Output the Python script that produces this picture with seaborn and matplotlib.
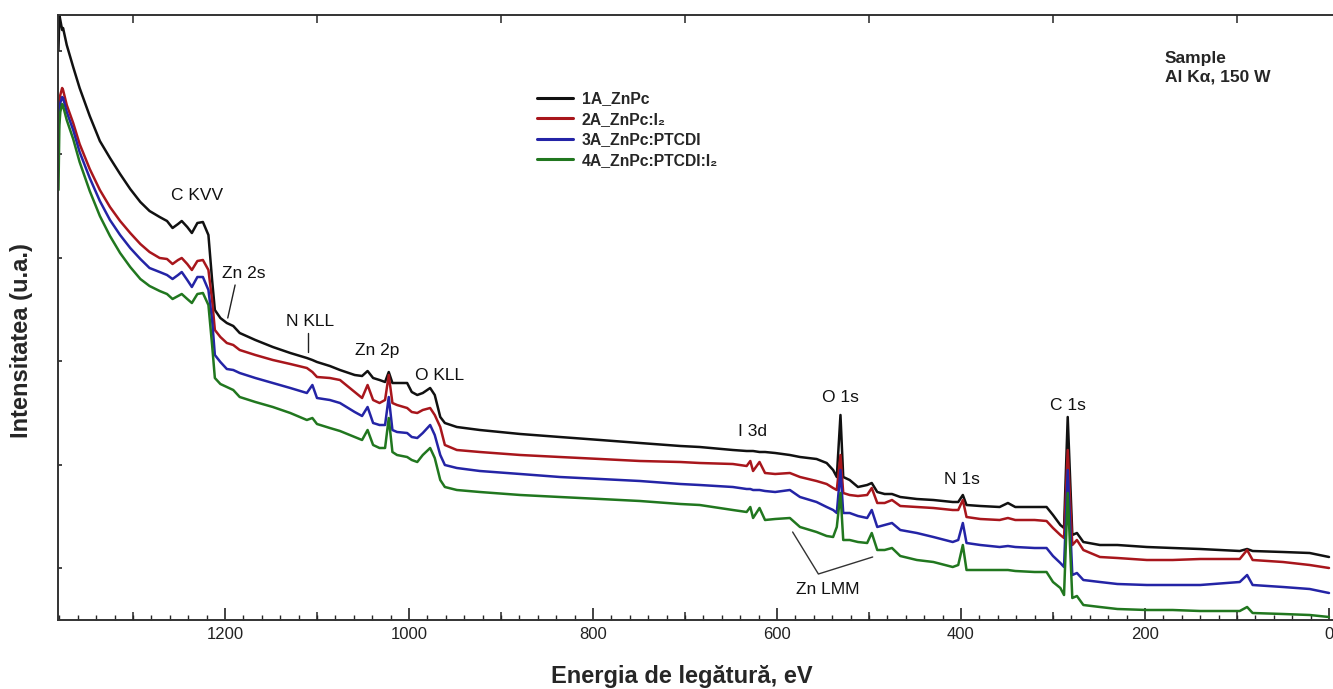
import numpy as np
import pandas as pd
import matplotlib
matplotlib.use("Agg")
import matplotlib.pyplot as plt
from matplotlib.ticker import MultipleLocator, FixedLocator, NullFormatter
import seaborn as sns

# Binding energy grid (eV) shared by all survey spectra
energy = [1381, 1380, 1379, 1377, 1376, 1372, 1365, 1358, 1347, 1336,
          1325, 1314, 1303, 1292, 1282, 1271, 1263, 1257, 1251, 1247,
          1241, 1236, 1230, 1224, 1218, 1214, 1211, 1205, 1198, 1191,
          1184, 1167, 1148, 1129, 1111, 1105, 1100, 1086, 1075, 1059,
          1051, 1045, 1039, 1032, 1026, 1022, 1018, 1013, 1002, 997,
          991, 985, 977, 972, 966, 961, 948, 923, 879, 836,
          792, 749, 705, 684, 648, 633, 629, 626, 619, 613,
          602, 586, 575, 557, 546, 539, 535, 531, 528, 521,
          512, 502, 497, 491, 483, 475, 466, 448, 430, 409,
          403, 398, 394, 379, 358, 349, 341, 320, 307, 300,
          292, 288, 284, 279, 274, 267, 249, 230, 198, 170,
          140, 97, 89, 83, 50, 21, 0]

# Intensities (a.u., stacked for display)
int_1a = [570, 605, 600, 590, 592, 575, 553, 532, 504, 479,
          462, 446, 431, 418, 409, 403, 399, 392, 396, 399,
          393, 387, 397, 398, 385, 340, 310, 302, 297, 294,
          287, 280, 273, 267, 262, 260, 258, 254, 250, 245,
          244, 249, 242, 240, 238, 248, 237, 237, 237, 228,
          225, 227, 232, 225, 203, 197, 193, 190, 186, 183,
          180, 177, 174, 173, 170, 169, 169, 169, 168, 168,
          167, 165, 163, 161, 157, 150, 143, 205, 143, 140,
          133, 135, 137, 128, 126, 126, 123, 121, 120, 118,
          118, 125, 115, 114, 113, 117, 113, 113, 113, 105,
          95, 92, 203, 85, 87, 78, 75, 75, 73, 72,
          71, 69, 71, 69, 68, 67, 63]

int_2a = [498, 520, 525, 532, 530, 515, 497, 476, 451, 430,
          413, 399, 387, 376, 368, 362, 361, 356, 360, 362,
          356, 350, 359, 360, 350, 320, 290, 283, 277, 275,
          270, 265, 260, 256, 252, 248, 243, 242, 240, 228,
          222, 235, 220, 217, 220, 245, 217, 215, 212, 208,
          207, 210, 212, 205, 193, 175, 170, 168, 165, 163,
          161, 159, 158, 157, 156, 154, 159, 149, 158, 147,
          146, 147, 143, 139, 136, 132, 130, 165, 127, 125,
          124, 125, 132, 117, 117, 120, 114, 113, 112, 110,
          110, 120, 103, 101, 100, 102, 100, 100, 99, 92,
          85, 82, 170, 75, 80, 70, 63, 62, 60, 60,
          61, 61, 70, 60, 58, 55, 52]

int_3a = [480, 510, 517, 523, 522, 508, 490, 468, 442, 419,
          400, 385, 372, 361, 352, 348, 345, 341, 345, 348,
          340, 333, 343, 343, 330, 300, 265, 258, 251, 250,
          247, 242, 237, 232, 227, 235, 222, 220, 217, 208,
          204, 213, 197, 195, 195, 223, 190, 188, 187, 183,
          182, 187, 195, 185, 165, 155, 152, 149, 146, 143,
          141, 139, 136, 135, 133, 131, 131, 130, 130, 129,
          128, 130, 123, 118, 113, 110, 107, 150, 107, 107,
          104, 102, 110, 93, 95, 97, 90, 87, 83, 78,
          80, 97, 77, 75, 73, 74, 73, 72, 72, 64,
          57, 53, 150, 45, 47, 40, 38, 36, 35, 35,
          35, 38, 45, 35, 33, 31, 27]

int_4a = [430, 495, 508, 516, 514, 500, 481, 458, 429, 404,
          384, 367, 353, 341, 334, 329, 326, 321, 324, 326,
          321, 317, 326, 327, 315, 275, 242, 236, 233, 230,
          223, 218, 213, 207, 200, 202, 196, 192, 189, 183,
          180, 190, 175, 172, 172, 202, 168, 165, 163, 160,
          158, 165, 172, 162, 140, 133, 130, 128, 125, 123,
          121, 119, 116, 115, 110, 108, 113, 102, 112, 100,
          101, 102, 93, 88, 84, 83, 93, 127, 80, 80,
          78, 77, 87, 70, 70, 72, 64, 60, 58, 53,
          55, 75, 50, 50, 50, 50, 49, 48, 48, 38,
          32, 25, 127, 22, 24, 15, 13, 11, 10, 10,
          9, 9, 13, 7, 6, 5, 3]

samples = ["1A_ZnPc", "2A_ZnPc:I\u2082", "3A_ZnPc:PTCDI", "4A_ZnPc:PTCDI:I\u2082"]
colors = ["#111111", "#a8161c", "#2424a6", "#21771f"]

# Peak annotations: (text, energy, intensity)
peak_labels = [("C KVV", 1230, 424), ("Zn 2s", 1180, 346), ("N KLL", 1108, 298),
               ("Zn 2p", 1035, 270), ("O KLL", 967, 245), ("I 3d", 627, 188),
               ("O 1s", 531, 222), ("N 1s", 399, 140), ("C 1s", 284, 215),
               ("Zn LMM", 545, 30)]

df = pd.concat([
    pd.DataFrame({"energy": energy, "intensity": vals, "sample": name})
    for name, vals in zip(samples, [int_1a, int_2a, int_3a, int_4a])
], ignore_index=True)

sns.set_theme(style="ticks")
plt.rcParams["font.family"] = ["Liberation Sans", "DejaVu Sans"]

W, H = 1333, 689
fig = plt.figure(figsize=(W / 100, H / 100), dpi=100)
ax = fig.add_axes([58 / W, (H - 620) / H, (W - 58) / W, 605 / H])

sns.lineplot(data=df, x="energy", y="intensity", hue="sample", hue_order=samples,
             palette=colors, sort=False, estimator=None, linewidth=1.8, ax=ax)

ax.set_xlim(1381.5, -4.35)
ax.set_ylim(0, 605)

# Axis frame and ticks
for side in ["left", "bottom", "top"]:
    ax.spines[side].set_linewidth(1.4)
    ax.spines[side].set_color("#333333")
ax.spines["right"].set_visible(False)

ax.xaxis.set_major_locator(MultipleLocator(200))
ax.xaxis.set_minor_locator(MultipleLocator(20))
ax.tick_params(axis="x", which="major", direction="in", length=8.5, width=1.2,
               top=True, bottom=True, labelsize=12, pad=5, colors="#222222")
ax.tick_params(axis="x", which="minor", direction="in", length=3.5, width=1.0,
               top=True, bottom=True)
ax.set_yticks(np.arange(52, 605, 103.5))
ax.yaxis.set_major_formatter(NullFormatter())
ax.tick_params(axis="y", which="major", direction="in", length=3, width=1.2,
               left=True, right=False)

# Intermediate ticks at odd hundreds
ax2 = ax.twiny()
ax2.set_xlim(ax.get_xlim())
ax2.xaxis.set_major_locator(FixedLocator(np.arange(100, 1400, 200)))
ax2.xaxis.set_major_formatter(NullFormatter())
ax2.tick_params(axis="x", which="major", direction="in", length=6, width=1.1,
                top=True, bottom=True, labeltop=False, labelbottom=False)
for s in ax2.spines.values():
    s.set_visible(False)

ax.set_xlabel("Energia de legătură, eV", fontsize=17, fontweight="bold", va="center")
ax.xaxis.set_label_coords((682 - 58) / 1275, (620 - 677) / 605)
ax.set_ylabel("Intensitatea (u.a.)", fontsize=17, fontweight="bold", va="center")
ax.yaxis.set_label_coords((22 - 58) / 1275, (620 - 341) / 605)

sns.move_legend(ax, loc="upper left", bbox_to_anchor=((537 - 58) / 1275, (620 - 91) / 605),
                frameon=False, title=None, prop={"weight": "bold", "size": 11.3},
                handlelength=2.3, handletextpad=0.55, labelspacing=0.36,
                borderpad=0, borderaxespad=0)
for line in ax.get_legend().get_lines():
    line.set_linewidth(2.2)

for text, e, h in peak_labels:
    ax.text(e, h, text, fontsize=12.5, ha="center", va="center", color="#111111")

# Leader lines for peak labels
ax.plot([1189, 1197], [335, 302], color="#222222", lw=1.0)
ax.plot([1110, 1110], [287, 268], color="#222222", lw=1.0)
ax.plot([583, 555, 496], [88, 46, 63], color="#333333", lw=1.0)

fig.text(1165 / W, 1 - 68 / H, "Sample\nAl K\u03b1, 150 W", fontsize=12.5,
         fontweight="bold", ha="left", va="center", linespacing=1.25)

fig.savefig("out.png", dpi=100)
